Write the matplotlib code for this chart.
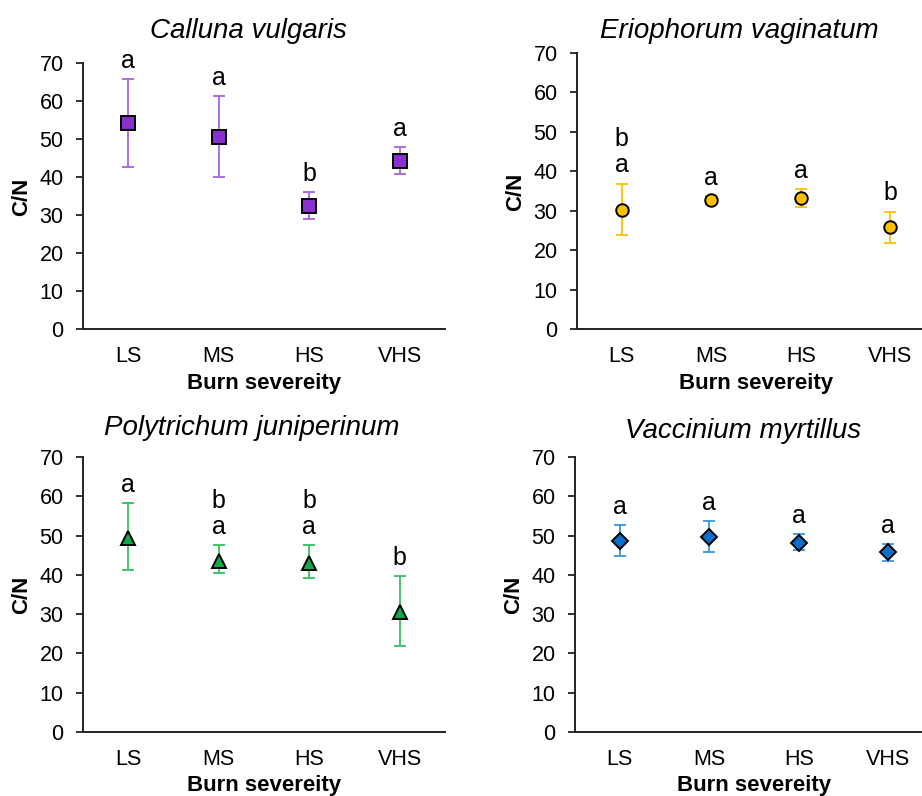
import matplotlib
matplotlib.use("Agg")
import matplotlib.pyplot as plt

plt.rcParams['font.family'] = ['Liberation Sans', 'DejaVu Sans']

# --- data ---
severity = ["LS", "MS", "HS", "VHS"]

calluna_mean = [54.1, 50.6, 32.4, 44.3]
calluna_lo = [42.5, 40.0, 29.0, 40.9]
calluna_hi = [65.7, 61.2, 36.0, 47.9]
calluna_letters = ["a", "a", "b", "a"]

# stacked letters are written bottom-to-top
erio_mean = [30.3, 32.7, 33.2, 25.8]
erio_lo = [23.8, 31.6, 31.0, 21.9]
erio_hi = [36.9, 33.8, 35.6, 29.8]
erio_letters = ["ab", "a", "a", "b"]

poly_mean = [49.4, 43.6, 43.1, 30.5]
poly_lo = [41.3, 40.4, 39.2, 21.9]
poly_hi = [58.3, 47.5, 47.5, 39.8]
poly_letters = ["a", "ab", "ab", "b"]

vacc_mean = [48.6, 49.7, 48.1, 45.7]
vacc_lo = [44.7, 45.9, 46.3, 43.6]
vacc_hi = [52.7, 53.8, 50.3, 47.9]
vacc_letters = ["a", "a", "a", "a"]

W, H = 922, 796
fig = plt.figure(figsize=(W / 100, H / 100), dpi=100)

TICK_FS = 15.5
LABEL_FS = 16


def px_axes(left, top, right, bottom):
    return fig.add_axes([left / W, 1 - bottom / H, (right - left) / W, (bottom - top) / H])


def panel(ax, mean, lo, hi, letters, marker, face, ecol, ms, title, tpos, ylpos, xlpos):
    x = range(len(severity))
    yerr = [[m - l for m, l in zip(mean, lo)], [h - m for m, h in zip(mean, hi)]]
    ax.errorbar(x, mean, yerr=yerr, fmt="none", ecolor=ecol, elinewidth=1.3,
                capsize=4, capthick=1.3, zorder=2)
    ax.plot(x, mean, linestyle="none", marker=marker, markersize=ms,
            markerfacecolor=face, markeredgecolor="black", markeredgewidth=1.4, zorder=3)
    # significance letters, stacked from the bottom up
    for i, lab in enumerate(letters):
        for k, ch in enumerate(lab):
            ax.annotate(ch, (i, hi[i]), xytext=(0, 8 + k * 19), textcoords="offset points",
                        ha="center", va="baseline", fontsize=18, annotation_clip=False)
    ax.set_xlim(-0.5, 3.5)
    ax.set_ylim(0, 70)
    ax.set_yticks(range(0, 71, 10))
    ax.set_xticks(list(x))
    ax.set_xticklabels(severity)
    for s in ["top", "right"]:
        ax.spines[s].set_visible(False)
    for s in ["left", "bottom"]:
        ax.spines[s].set_linewidth(1.4)
        ax.spines[s].set_color("#222222")
    ax.tick_params(axis="y", direction="out", length=5, width=1.3, pad=9, labelsize=TICK_FS,
                   color="#222222")
    ax.tick_params(axis="x", length=0, pad=12, labelsize=TICK_FS)
    fig.text(tpos[0] / W, 1 - tpos[1] / H, title, fontsize=20, style="italic",
             ha="center", va="center")
    fig.text(ylpos[0] / W, 1 - ylpos[1] / H, "C/N", fontsize=LABEL_FS, fontweight="bold",
             rotation=90, ha="center", va="center")
    fig.text(xlpos[0] / W, 1 - xlpos[1] / H, "Burn severeity", fontsize=LABEL_FS,
             fontweight="bold", ha="center", va="center")


ax1 = px_axes(83, 63, 445, 329)
panel(ax1, calluna_mean, calluna_lo, calluna_hi, calluna_letters, "s", "#8A30CF", "#A463E3", 10.5,
      "Calluna vulgaris", (248, 31), (22, 197), (264, 383))

ax2 = px_axes(577, 53, 935, 329)
panel(ax2, erio_mean, erio_lo, erio_hi, erio_letters, "o", "#FFC000", "#FFC000", 9,
      "Eriophorum vaginatum", (739, 31), (516, 192), (756, 383))

ax3 = px_axes(83, 457, 445, 732)
panel(ax3, poly_mean, poly_lo, poly_hi, poly_letters, "^", "#10A84A", "#35C060", 10,
      "Polytrichum juniperinum", (252, 428), (22, 595), (264, 785))

ax4 = px_axes(575, 457, 933, 732)
panel(ax4, vacc_mean, vacc_lo, vacc_hi, vacc_letters, "D", "#0A6FC8", "#3A95DD", 8,
      "Vaccinium myrtillus", (743, 431), (514, 595), (754, 785))

fig.savefig("out.png", dpi=100)
